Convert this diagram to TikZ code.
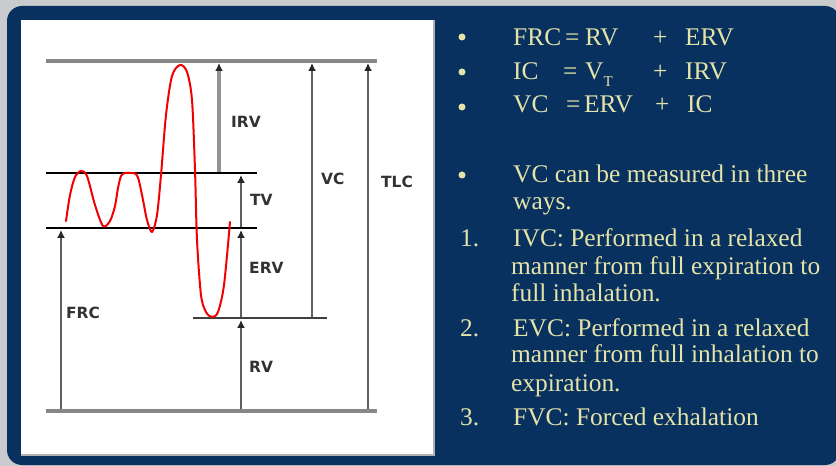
\documentclass[tikz,border=0pt]{standalone}
\usepackage{fontspec}
\setmainfont{Liberation Serif}
\newfontfamily\lblfont{DejaVu Sans}
\usetikzlibrary{arrows.meta}
\definecolor{navy}{RGB}{8,49,96}
\definecolor{framegray}{RGB}{201,203,205}
\definecolor{txtyel}{RGB}{228,228,168}
\definecolor{lblgray}{RGB}{50,50,50}
\definecolor{curvered}{RGB}{240,0,0}
\definecolor{lvlgray}{RGB}{135,135,135}
\definecolor{arrgray}{RGB}{95,95,95}
\begin{document}
\begin{tikzpicture}[x=1bp,y=-1bp,
  lvlthick/.style={line width=3.5bp,draw=lvlgray},
  lvlblack/.style={line width=2bp,draw=black},
  lvldark/.style={line width=2bp,draw=black!75},
  arr/.style={line width=1.5bp,draw=arrgray,-{Latex[length=8bp,width=8bp,color=black!85]}},
  arrthick/.style={line width=3.2bp,draw=lvlgray!90,-{Latex[length=8bp,width=8bp,color=black!85]}},
  lab/.style={font=\lblfont\bfseries\fontsize{15.5}{17}\selectfont,text=lblgray,inner sep=0pt,anchor=west},
  rt/.style={font=\fontsize{25.5}{28}\selectfont,text=txtyel,inner sep=0pt,anchor=base west},
  bul/.style={circle,fill=txtyel,inner sep=0pt,minimum size=7bp}]
\useasboundingbox (0,0) rectangle (836,466);
\clip (0,0) rectangle (836,466);
% background
\fill[framegray] (0,0) rectangle (836,466);
\fill[navy,rounded corners=15bp] (7,6) rectangle (840,465);
\fill[white] (21,20) rectangle (434,455);
\draw[line width=1.5bp,draw=black!30] (434,20) -- (434,455) -- (21,455);
% level coordinates
\coordinate (tl) at (46,61);  \coordinate (tr) at (377,61);
\coordinate (bl) at (46,411); \coordinate (br) at (377,411);
\coordinate (vl) at (46,173); \coordinate (vr) at (257,173);
\coordinate (fl) at (46,228); \coordinate (fr) at (257,228);
\coordinate (rl) at (193,318); \coordinate (rr) at (327,318);
% arrow end points
\coordinate (frcB) at (61,411);  \coordinate (frcT) at (61,230);
\coordinate (irvB) at (219,172); \coordinate (irvT) at (219,63);
\coordinate (tvB) at (241,228);  \coordinate (tvT) at (241,175);
\coordinate (ervB) at (241,318); \coordinate (ervT) at (241,230);
\coordinate (rvB) at (241,411);  \coordinate (rvT) at (241,320);
\coordinate (vcB) at (312,318);  \coordinate (vcT) at (312,63);
\coordinate (tlcB) at (368,411); \coordinate (tlcT) at (368,63);
% arrows
\draw[arr] (frcB) -- (frcT);
\draw[arrthick] (irvB) -- (irvT);
\draw[arr] (tvB) -- (tvT);
\draw[arr] (ervB) -- (ervT);
\draw[arr] (rvB) -- (rvT);
\draw[arr] (vcB) -- (vcT);
\draw[arr] (tlcB) -- (tlcT);
% level lines
\draw[lvlthick] (tl) -- (tr);
\draw[lvlthick] (bl) -- (br);
\draw[lvlblack] (vl) -- (vr);
\draw[lvlblack] (fl) -- (fr);
\draw[lvldark] (rl) -- (rr);
% red curve
\draw[curvered,line width=2bp,line cap=round,line join=round]
  plot[smooth,tension=0.5] coordinates {
  (66,221) (70,195) (75,177) (81,171) (87,176) (95,205) (103,226) (110,221)
  (115,206) (118,188) (121,176) (125,173) (131,173) (136,174) (139,181) (143,200) (147,220) (152,232)
  (157,215) (161,175) (166,115) (172,76) (180,65) (187,72) (192,100) (195,170)
  (197,240) (201,295) (206,312) (212,317) (218,312) (224,285) (230,222)};
% labels
\node[lab] (irv) at (231,122) {IRV};
\node[lab] (tv) at (250,200) {TV};
\node[lab] (erv) at (249,268) {ERV};
\node[lab] (frc) at (66,313) {FRC};
\node[lab] (rv) at (249,367) {RV};
\node[lab] (vc) at (321,179) {VC};
\node[lab] (tlc) at (381,182) {TLC};
% bullets
\node[bul] (b1) at (462,37) {};
\node[bul] (b2) at (462,72) {};
\node[bul] (b3) at (462,107) {};
\node[bul] (b4) at (462,175) {};
% equations
\node[rt] (e1a) at (513,46) {FRC};
\node[rt] (e1b) at (565,46) {=};
\node[rt] (e1c) at (585,46) {RV};
\node[rt] (e1d) at (653,46) {+};
\node[rt] (e1e) at (685,46) {ERV};
\node[rt] (e2a) at (513,80) {IC};
\node[rt] (e2b) at (563,80) {=};
\node[rt] (e2c) at (585,80) {V\raisebox{-0.25em}{\fontsize{15}{15}\selectfont T}};
\node[rt] (e2d) at (653,80) {+};
\node[rt] (e2e) at (685,80) {IRV};
\node[rt] (e3a) at (513,113) {VC};
\node[rt] (e3b) at (566,113) {=};
\node[rt] (e3c) at (584,113) {ERV};
\node[rt] (e3d) at (655,113) {+};
\node[rt] (e3e) at (687,113) {IC};
% paragraph
\node[rt] (p1) at (513,183) {VC can be measured in three};
\node[rt] (p2) at (513,210) {ways.};
\node[rt] (n1) at (460,247) {1.};
\node[rt] (i1) at (513,247) {IVC: Performed in a relaxed};
\node[rt] (i2) at (511,275) {manner from full expiration to};
\node[rt] (i3) at (511,302) {full inhalation.};
\node[rt] (n2) at (460,337) {2.};
\node[rt] (j1) at (513,337) {EVC: Performed in a relaxed};
\node[rt] (j2) at (511,363) {manner from full inhalation to};
\node[rt] (j3) at (511,391) {expiration.};
\node[rt] (n3) at (460,425) {3.};
\node[rt] (k1) at (513,425) {FVC: Forced exhalation};
\end{tikzpicture}
\end{document}
